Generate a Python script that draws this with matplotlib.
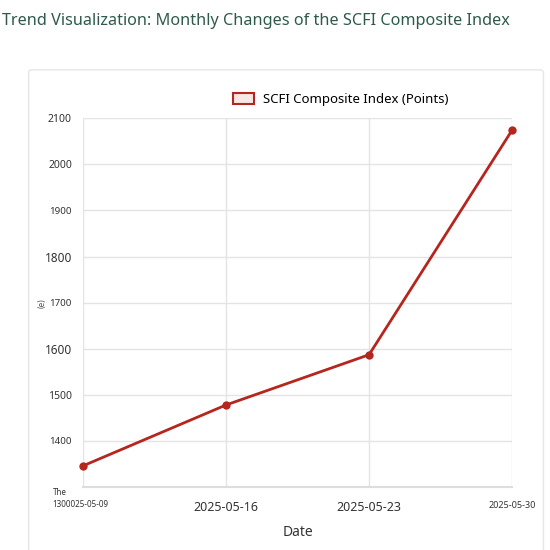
import matplotlib
matplotlib.use("Agg")
import matplotlib.pyplot as plt
from matplotlib.patches import FancyBboxPatch, Rectangle

# data
dates = ["2025-05-09", "2025-05-16", "2025-05-23", "2025-05-30"]
scfi_points = [1346, 1478, 1587, 2074]
x_tick_labels = ["The\n1300025-05-09", "2025-05-16", "2025-05-23", "2025-05-30"]
y_ticks = [1400, 1500, 1600, 1700, 1800, 1900, 2000, 2100]

plt.rcParams['font.family'] = ['Noto Sans', 'DejaVu Sans']

fig = plt.figure(figsize=(5.5, 5.5), dpi=100)
fig.patch.set_facecolor("white")

# card behind the chart
card = FancyBboxPatch((0.052, -0.02), 0.936, 0.893, boxstyle="round,pad=0,rounding_size=0.006",
                      transform=fig.transFigure, facecolor="white", edgecolor="#e6e6e6",
                      linewidth=1.0, zorder=-5)
fig.patches.append(card)

fig.text(0.003, 0.962, "Trend Visualization: Monthly Changes of the SCFI Composite Index",
         fontsize=11.7, color="#2e5a4c", va="center", ha="left")

ax = fig.add_axes([0.151, 0.1145, 0.78, 0.6705])
ax.set_zorder(2)
ax.set_facecolor("none")

x = list(range(len(dates)))
line_color = "#b5261e"
ax.plot(x, scfi_points, color=line_color, linewidth=2.0, marker="o",
        markersize=6, markeredgewidth=0, zorder=3, clip_on=False)

ax.set_xlim(0, 3)
ax.set_ylim(1300, 2100)
ax.set_xticks(x)
# the first label is drawn separately, shifted left like in the reference
ax.set_xticklabels([""] + x_tick_labels[1:])
ax.annotate(x_tick_labels[0], xy=(x[0], 0), xycoords=("data", "axes fraction"),
            xytext=(-22, -0.5), textcoords="offset points", ha="left", va="top",
            fontsize=5.8, color="#333333", linespacing=1.4)
ax.set_yticks(y_ticks)
ax.set_yticklabels([str(v) for v in y_ticks])

# tick labels in the reference have uneven sizes
y_sizes = {1400: 7, 1500: 7.5, 1600: 8.5, 1700: 7, 1800: 8.5, 1900: 7, 2000: 7.5, 2100: 7.5}
for lbl, v in zip(ax.get_yticklabels(), y_ticks):
    lbl.set_fontsize(y_sizes[v])
    lbl.set_color("#333333")
x_sizes = [5.8, 9, 9, 6.5]
for lbl, s in zip(ax.get_xticklabels(), x_sizes):
    lbl.set_fontsize(s)
    lbl.set_color("#333333")

ax.tick_params(axis="both", length=0, pad=8)
ax.tick_params(axis="x", pad=10)
ax.grid(True, color="#e4e4e4", linewidth=1.0)
ax.set_axisbelow(True)
for side in ["top", "right", "left"]:
    ax.spines[side].set_visible(False)
ax.spines["bottom"].set_color("#dddddd")
ax.spines["bottom"].set_linewidth(1.5)

ax.set_xlabel("Date", fontsize=10, color="#333333", labelpad=8)
ax.set_ylabel("(e)", fontsize=6, color="#555555")
ax.yaxis.set_label_coords(-0.085, 0.5)

handle = Rectangle((0, 0), 1, 1, facecolor="#f6e6e6", edgecolor=line_color, linewidth=1.5)
ax.legend([handle], ["SCFI Composite Index (Points)"], loc="lower center",
          bbox_to_anchor=(0.6, 1.0), frameon=False, fontsize=9.5,
          handlelength=1.6, handleheight=0.9, handletextpad=0.7)

fig.savefig("out.png", dpi=100, facecolor="white")
